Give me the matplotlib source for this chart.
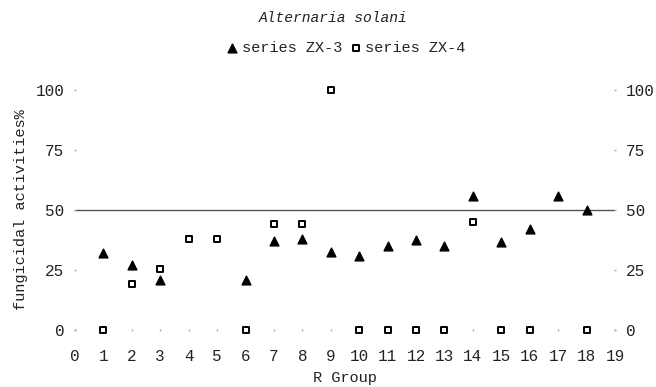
import matplotlib
matplotlib.use("Agg")
import matplotlib.pyplot as plt

plt.rcParams['font.family'] = ['Liberation Mono', 'DejaVu Sans Mono']
plt.rcParams['text.color'] = '#222222'
plt.rcParams['xtick.labelcolor'] = '#222222'
plt.rcParams['ytick.labelcolor'] = '#222222'
plt.rcParams['axes.labelcolor'] = '#222222'

x_zx3 = [1, 2, 3, 6, 7, 8, 9, 10, 11, 12, 13, 14, 15, 16, 17, 18]
y_zx3 = [32, 27, 21, 21, 37, 38, 32.5, 31, 35, 37.5, 35, 56, 36.5, 42, 56, 50]

x_zx4 = [1, 2, 3, 4, 5, 6, 7, 8, 9, 10, 11, 12, 13, 14, 15, 16, 18]
y_zx4 = [0, 19, 25.5, 38, 38, 0, 44, 44, 100, 0, 0, 0, 0, 45, 0, 0, 0]

x_ticks = list(range(0, 20))
y_ticks = [0, 25, 50, 75, 100]
ref_line = 50

fig = plt.figure(figsize=(6.56, 3.87), dpi=100)
ax = fig.add_axes([75/656, 57/387, 540/656, 240/387])

ax.scatter(x_zx3, y_zx3, marker='^', s=40, color='black', label='series ZX-3',
           clip_on=False, zorder=3)
ax.scatter(x_zx4, y_zx4, marker='s', s=22, facecolor='white', edgecolor='black',
           linewidths=1.4, label='series ZX-4', clip_on=False, zorder=3)

ax.axhline(ref_line, color='#555555', lw=1.0, zorder=1)

ax.set_xlim(0, 19)
ax.set_ylim(0, 100)
for s in ax.spines.values():
    s.set_visible(False)

ax.set_xticks(x_ticks)
ax.set_yticks(y_ticks)
ax.tick_params(axis='x', length=1.5, width=1, color='#aaaaaa', direction='inout',
               pad=13, labelsize=11.5)
ax.tick_params(axis='y', length=1.5, width=1, color='#aaaaaa', direction='inout',
               pad=7, labelsize=11.5, right=True, labelright=True)

ax.set_xlabel('R Group', fontsize=11, labelpad=5)
ax.set_ylabel('fungicidal activities%', fontsize=11, labelpad=5)

fig.text(333/656, 1 - 18/387, 'Alternaria solani', ha='center', va='center',
         fontsize=10.5, style='italic')

leg = ax.legend(loc='center', bbox_to_anchor=(345/656, 1 - 48/387),
                bbox_transform=fig.transFigure, ncol=2, frameon=False,
                fontsize=11, handletextpad=0.1, columnspacing=0.4,
                borderpad=0, handlelength=1.0)

fig.savefig('out.png', dpi=100)
